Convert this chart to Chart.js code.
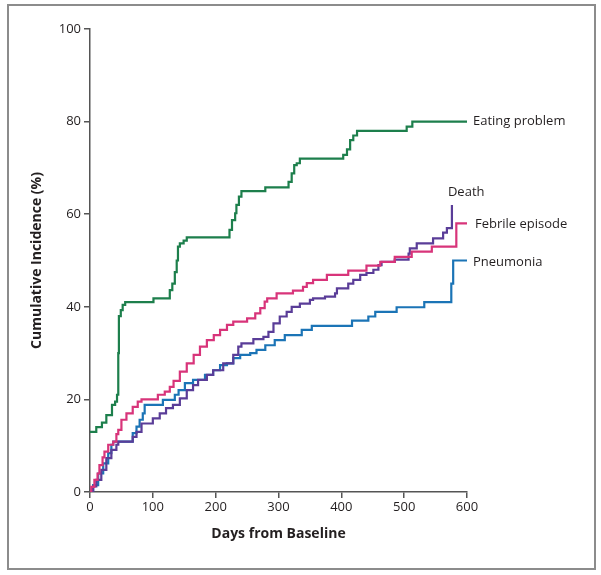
<!DOCTYPE html>
<html>
<head>
<meta charset="utf-8">
<script src="https://cdn.jsdelivr.net/npm/chart.js@4.4.1/dist/chart.umd.min.js"></script>
<style>
  html, body { margin: 0; padding: 0; background: #fff; }
  #wrap { position: relative; width: 601px; height: 575px; }
  #frame {
    position: absolute; left: 7px; top: 4px; width: 585px; height: 562px;
    border: 2px solid #8c8c8c;
  }
  canvas { position: absolute; left: 0; top: 0; }
</style>
</head>
<body>
<div id="wrap">
  <div id="frame"></div>
  <canvas id="kmChart" width="601" height="575"></canvas>
</div>
<script>
// days from baseline and cumulative incidence (%) after each step
const eatingDays = [0, 10, 19, 26, 35, 40, 43, 45, 46, 49, 52, 56, 101, 127, 131, 135, 138, 140, 143, 149, 154, 222, 226, 231, 233, 237, 241, 279, 316, 321, 325, 329, 334, 403, 409, 414, 419, 425, 504, 513, 600];
const eatingPct  = [13, 14, 15, 16.6, 18.8, 19.5, 21, 30, 38, 39.3, 40.4, 41, 41.8, 43.6, 45, 47.5, 50, 53, 53.7, 54.3, 55, 56.6, 58.7, 60.2, 62, 63.8, 65, 65.8, 67, 68.8, 70.6, 71, 72, 72.8, 74, 76, 77, 78, 78.9, 80, 80];

const febrileDays = [0, 2, 7, 12, 15, 20, 23, 29, 37, 42, 45, 50, 58, 68, 76, 82, 108, 119, 127, 133, 143, 154, 165, 175, 186, 197, 207, 218, 228, 250, 263, 271, 278, 282, 297, 323, 339, 345, 355, 377, 411, 440, 462, 485, 512, 544, 583, 600];
const febrilePct  = [0, 1.1, 2.6, 4, 5.8, 7.5, 8.7, 10.2, 10.9, 12.5, 13.4, 15.6, 17, 18.4, 19.5, 20, 21, 21.7, 22.7, 24, 26, 27.8, 29.6, 31.4, 32.8, 33.9, 35, 36.1, 36.8, 37.5, 38.6, 39.7, 41.1, 41.8, 42.9, 43.5, 44.3, 45.1, 45.8, 46.9, 47.8, 48.9, 49.7, 50.8, 51.9, 53, 58, 58];

const deathDays = [0, 5, 10, 18, 26, 34, 42, 45, 68, 74, 82, 100, 111, 121, 132, 143, 154, 164, 172, 186, 196, 212, 228, 236, 241, 260, 276, 284, 292, 302, 313, 321, 334, 350, 355, 374, 390, 393, 411, 419, 430, 440, 451, 459, 464, 485, 507, 509, 520, 546, 562, 568, 576];
const deathPct  = [0, 1.2, 2.6, 4.8, 7.3, 9.1, 10.2, 10.9, 11.9, 13, 14.8, 15.9, 17, 18.1, 18.8, 20.2, 22, 23.1, 24.2, 25.3, 26.3, 27.8, 29.6, 31.4, 32.1, 33, 33.5, 34.6, 36.4, 37.9, 38.9, 40, 40.7, 41.5, 41.8, 42.2, 42.9, 44, 45, 45.8, 46.9, 47.3, 48, 49, 49.7, 50.2, 51.5, 52.6, 53.7, 54.8, 56, 57, 62];

const pneumoniaDays = [0, 5, 13, 21, 29, 34, 37, 68, 74, 79, 84, 87, 116, 135, 141, 151, 164, 183, 196, 207, 218, 228, 239, 255, 265, 279, 294, 310, 337, 353, 417, 443, 454, 488, 532, 575, 578, 600];
const pneumoniaPct  = [0, 1.5, 4, 6.2, 8.4, 10.2, 10.9, 12.7, 14.1, 15.6, 17, 18.8, 19.9, 21, 22, 23.5, 24.2, 25.3, 26.3, 27.4, 27.8, 28.9, 29.6, 30, 30.7, 31.7, 32.8, 33.9, 35, 35.9, 37, 37.9, 38.9, 39.9, 41, 45, 50, 50];

const seriesNames = ["Eating problem", "Febrile episode", "Death", "Pneumonia"];
const xTicks = [0, 100, 200, 300, 400, 500, 600];
const yTicks = [0, 20, 40, 60, 80, 100];

const FONT = "'Open Sans', 'DejaVu Sans', sans-serif";

function toPoints(days, pct) {
  return days.map((d, i) => ({ x: d, y: pct[i] }));
}

// where each end label sits relative to the last point of its line
const labelOffsets = {
  "Eating problem": { dx: 6, dy: 0 },
  "Febrile episode": { dx: 8, dy: 1 },
  "Death": { dx: -4, dy: -13 },
  "Pneumonia": { dx: 6, dy: 2 },
};

const endLabels = {
  id: "endLabels",
  afterDatasetsDraw(chart) {
    const ctx = chart.ctx;
    ctx.save();
    ctx.font = "13px " + FONT;
    ctx.fillStyle = "#231f20";
    ctx.textAlign = "left";
    ctx.textBaseline = "middle";
    chart.data.datasets.forEach((ds, i) => {
      const meta = chart.getDatasetMeta(i);
      const last = meta.data[meta.data.length - 1];
      const off = labelOffsets[ds.label];
      ctx.fillText(ds.label, last.x + off.dx, last.y + off.dy);
    });
    ctx.restore();
  },
};

const colors = ["#1d7f4c", "#d8347a", "#5a3d98", "#1b74b6"];
const allData = [
  toPoints(eatingDays, eatingPct),
  toPoints(febrileDays, febrilePct),
  toPoints(deathDays, deathPct),
  toPoints(pneumoniaDays, pneumoniaPct),
];

new Chart(document.getElementById("kmChart"), {
  type: "line",
  data: {
    datasets: seriesNames.map((name, i) => ({
      label: name,
      data: allData[i],
      borderColor: colors[i],
      borderWidth: 2.2,
      stepped: true,
      pointRadius: 0,
      fill: false,
      borderCapStyle: "butt",
      borderJoinStyle: "miter",
    })),
  },
  options: {
    responsive: false,
    animation: false,
    layout: { padding: { left: 25, top: 29, right: 134, bottom: 29 } },
    plugins: { legend: { display: false }, tooltip: { enabled: false } },
    scales: {
      x: {
        type: "linear",
        min: 0,
        max: 600,
        afterBuildTicks: (s) => { s.ticks = xTicks.map((v) => ({ value: v })); },
        afterFit: (s) => { s.height = 54; },
        border: { display: true, color: "#555", width: 1.5 },
        grid: { drawOnChartArea: false, drawTicks: true, tickLength: 6, color: "#555", lineWidth: 1.5 },
        ticks: { color: "#231f20", font: { family: FONT, size: 13 }, padding: 1, maxRotation: 0 },
        title: {
          display: true,
          text: "Days from Baseline",
          color: "#231f20",
          font: { family: FONT, size: 14, weight: "bold" },
          padding: { top: 8 },
        },
      },
      y: {
        min: 0,
        max: 100,
        afterBuildTicks: (s) => { s.ticks = yTicks.map((v) => ({ value: v })); },
        afterFit: (s) => { s.width = 65; },
        border: { display: true, color: "#555", width: 1.5 },
        grid: { drawOnChartArea: false, drawTicks: true, tickLength: 6, color: "#555", lineWidth: 1.5 },
        ticks: { color: "#231f20", font: { family: FONT, size: 13 }, padding: 3 },
        title: {
          display: true,
          text: "Cumulative Incidence (%)",
          color: "#231f20",
          font: { family: FONT, size: 14, weight: "bold" },
          padding: { bottom: 12 },
        },
      },
    },
  },
  plugins: [endLabels],
});
</script>
</body>
</html>
